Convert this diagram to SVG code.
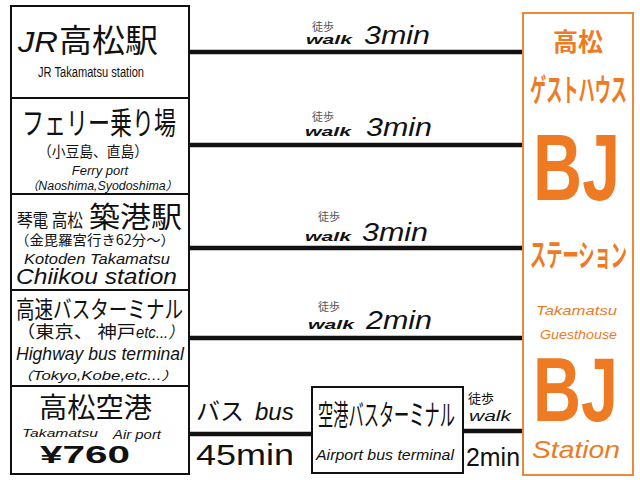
<svg xmlns="http://www.w3.org/2000/svg" width="640" height="480" viewBox="0 0 640 480">
<style>
.t{font-family:"Liberation Sans","Noto Sans CJK JP",sans-serif;fill:#111}
.j{font-family:"Noto Sans CJK JP","Liberation Sans",sans-serif;fill:#111}
.i{font-style:italic}
.g{fill:#555}
.o{fill:#EE7A24}
.box{fill:#fff;stroke:#111;stroke-width:2}
.ln{stroke:#111;stroke-width:4.5;fill:none}
</style>
<rect width="640" height="480" fill="#fff"/>
<g id="connectors">
<line class="ln" x1="189" y1="52" x2="523" y2="52"/>
<line class="ln" x1="189" y1="145" x2="523" y2="145"/>
<line class="ln" x1="189" y1="248" x2="523" y2="248"/>
<line class="ln" x1="189" y1="338" x2="523" y2="338"/>
<line class="ln" x1="189" y1="434" x2="312" y2="434"/>
<line class="ln" x1="463" y1="431" x2="523" y2="431"/>
<g id="walk1">
<text class="j g" x="312" y="31" font-size="11">徒歩</text>
<text class="t i" x="306" y="44" font-size="13" font-weight="bold" textLength="46" lengthAdjust="spacingAndGlyphs">walk</text>
<text class="t i" x="364" y="44" font-size="26" textLength="66" lengthAdjust="spacingAndGlyphs">3min</text>
</g>
<g id="walk2">
<text class="j g" x="312" y="121" font-size="11">徒歩</text>
<text class="t i" x="305" y="136" font-size="13" font-weight="bold" textLength="46" lengthAdjust="spacingAndGlyphs">walk</text>
<text class="t i" x="366" y="136" font-size="26" textLength="66" lengthAdjust="spacingAndGlyphs">3min</text>
</g>
<g id="walk3">
<text class="j g" x="318" y="221" font-size="11">徒歩</text>
<text class="t i" x="305" y="241" font-size="13" font-weight="bold" textLength="46" lengthAdjust="spacingAndGlyphs">walk</text>
<text class="t i" x="362" y="241" font-size="26" textLength="66" lengthAdjust="spacingAndGlyphs">3min</text>
</g>
<g id="walk4">
<text class="j g" x="318" y="311" font-size="11">徒歩</text>
<text class="t i" x="308" y="329" font-size="13" font-weight="bold" textLength="46" lengthAdjust="spacingAndGlyphs">walk</text>
<text class="t i" x="366" y="329" font-size="26" textLength="66" lengthAdjust="spacingAndGlyphs">2min</text>
</g>
<g id="bus">
<text class="j" x="196" y="420" font-size="24">バス</text>
<text class="t i" x="255" y="420" font-size="24">bus</text>
<text class="t" x="196" y="465" font-size="29" textLength="98" lengthAdjust="spacingAndGlyphs">45min</text>
</g>
<g id="walk5">
<text class="j" x="468" y="403" font-size="13">徒歩</text>
<text class="t i" x="469" y="421" font-size="15" textLength="42" lengthAdjust="spacingAndGlyphs">walk</text>
<text class="t" x="466" y="466" font-size="26" textLength="54" lengthAdjust="spacingAndGlyphs">2min</text>
</g>
</g>
<g id="jr">
<rect class="box" x="11" y="6" width="178" height="92"/>
<text class="t i" x="18" y="52" font-size="30" textLength="40" lengthAdjust="spacingAndGlyphs">JR</text>
<text class="j" x="59" y="52" font-size="32" textLength="99" lengthAdjust="spacingAndGlyphs">高松駅</text>
<text class="t" x="38" y="77" font-size="14" textLength="106" lengthAdjust="spacingAndGlyphs">JR Takamatsu station</text>
</g>
<g id="ferry">
<rect class="box" x="11" y="98" width="178" height="96"/>
<text class="j" x="22" y="134" font-size="31" textLength="154" lengthAdjust="spacingAndGlyphs">フェリー乗り場</text>
<text class="j" x="38" y="157" font-size="15" textLength="110" lengthAdjust="spacingAndGlyphs">（小豆島、直島）</text>
<text class="t i" x="100" y="175" font-size="13" text-anchor="middle">Ferry port</text>
<text class="t i" x="26" y="190" font-size="12" textLength="152" lengthAdjust="spacingAndGlyphs">（Naoshima,Syodoshima）</text>
</g>
<g id="kotoden">
<rect class="box" x="11" y="194" width="178" height="96"/>
<text class="j" x="17" y="227" font-size="18" textLength="66" lengthAdjust="spacingAndGlyphs">琴電 高松</text>
<text class="j" x="89" y="228" font-size="29" textLength="93" lengthAdjust="spacingAndGlyphs">築港駅</text>
<text class="j" x="15" y="245" font-size="14" textLength="160" lengthAdjust="spacingAndGlyphs">（金毘羅宮行き62分〜）</text>
<text class="t i" x="24" y="264" font-size="14" textLength="146" lengthAdjust="spacingAndGlyphs">Kotoden Takamatsu</text>
<text class="t i" x="16" y="284" font-size="22" textLength="161" lengthAdjust="spacingAndGlyphs">Chiikou station</text>
</g>
<g id="highway">
<rect class="box" x="11" y="290" width="178" height="96"/>
<text class="j" x="16" y="318" font-size="24" textLength="167" lengthAdjust="spacingAndGlyphs">高速バスターミナル</text>
<text class="j" x="16" y="338" font-size="17" textLength="120" lengthAdjust="spacingAndGlyphs">（東京、 神戸</text>
<text class="t i" x="136" y="338" font-size="16" textLength="47" lengthAdjust="spacingAndGlyphs">etc...）</text>
<text class="t i" x="16" y="360" font-size="18" textLength="168" lengthAdjust="spacingAndGlyphs">Highway bus terminal</text>
<text class="t i" x="16" y="380" font-size="12" textLength="162" lengthAdjust="spacingAndGlyphs">（Tokyo,Kobe,etc...）</text>
</g>
<g id="airport">
<rect class="box" x="11" y="386" width="178" height="88"/>
<text class="j" x="39" y="418" font-size="28" textLength="113" lengthAdjust="spacingAndGlyphs">高松空港</text>
<text class="t i" x="22" y="437" font-size="11" textLength="76" lengthAdjust="spacingAndGlyphs">Takamatsu</text>
<text class="t i" x="113" y="439" font-size="12" textLength="48" lengthAdjust="spacingAndGlyphs">Air port</text>
<text class="t" x="40" y="463" font-size="24" font-weight="bold" textLength="90" lengthAdjust="spacingAndGlyphs">¥760</text>
</g>
<g id="airportbus">
<rect class="box" x="312" y="387" width="151" height="86"/>
<text class="j" x="318" y="426" font-size="29" textLength="137" lengthAdjust="spacingAndGlyphs">空港バスターミナル</text>
<text class="t i" x="316" y="460" font-size="14" textLength="138" lengthAdjust="spacingAndGlyphs">Airport bus terminal</text>
</g>
<g id="bj">
<rect x="523" y="13" width="110" height="462" fill="#fff" stroke="#E98A3C" stroke-width="2"/>
<text class="j o" x="578" y="51" font-size="25" font-weight="bold" text-anchor="middle">高松</text>
<text class="j o" x="530" y="101" font-size="31" font-weight="bold" textLength="97" lengthAdjust="spacingAndGlyphs">ゲストハウス</text>
<text class="t o" x="533" y="200" font-size="94" font-weight="bold" textLength="87" lengthAdjust="spacingAndGlyphs">BJ</text>
<text class="j o" x="530" y="266" font-size="31" font-weight="bold" textLength="97" lengthAdjust="spacingAndGlyphs">ステーション</text>
<text class="t i o" x="536" y="315" font-size="13" textLength="81" lengthAdjust="spacingAndGlyphs">Takamatsu</text>
<text class="t i o" x="540" y="339" font-size="12" textLength="77" lengthAdjust="spacingAndGlyphs">Guesthouse</text>
<text class="t o" x="533" y="421" font-size="90" font-weight="bold" textLength="85" lengthAdjust="spacingAndGlyphs">BJ</text>
<text class="t i o" x="532" y="458" font-size="24" textLength="88" lengthAdjust="spacingAndGlyphs">Station</text>
</g>
</svg>
